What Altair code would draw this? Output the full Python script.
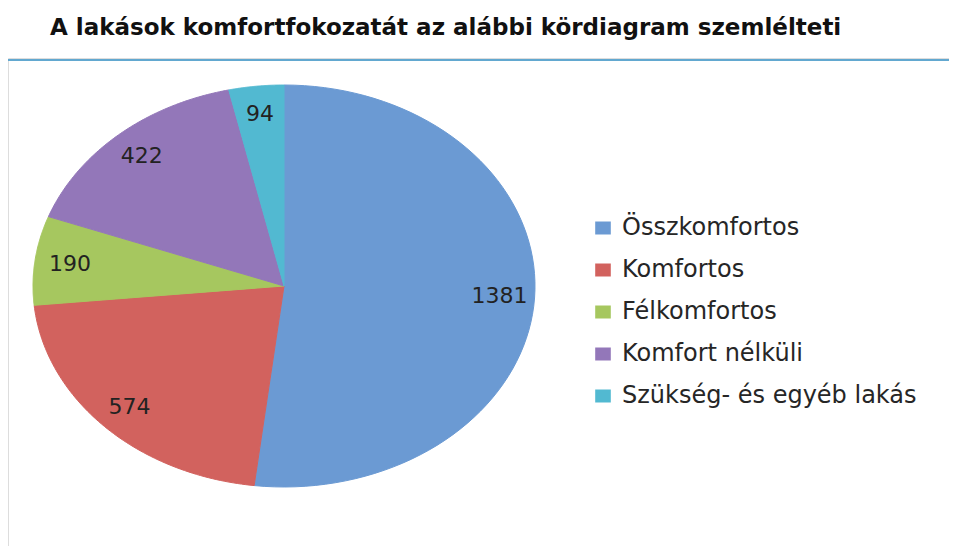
import altair as alt
import pandas as pd

# ---- data ----
categories = ["Összkomfortos", "Komfortos", "Félkomfortos", "Komfort nélküli", "Szükség- és egyéb lakás"]
values = [1381, 574, 190, 422, 94]
colors = ["#6B9AD3", "#D2625E", "#A6C75F", "#9377B9", "#52B9D1"]
title_text = "A lakások komfortfokozatát az alábbi kördiagram szemlélteti"

df = pd.DataFrame({"cat": categories, "value": values, "idx": list(range(len(categories)))})

W, H = 941, 488
CX, CY, RX, RY = 276, 228, 251, 201  # ellipse centre / radii in view pixels
xs = alt.Scale(domain=[-CX / RX, (W - CX) / RX], nice=False, zero=False)
ys = alt.Scale(domain=[-(H - CY) / RY, CY / RY], nice=False, zero=False)
color_scale = alt.Scale(domain=categories, range=colors)

base = (
    alt.Chart(df)
    .transform_joinaggregate(total="sum(value)")
    .transform_window(cum="sum(value)", sort=[alt.SortField("idx")], frame=[None, 0])
    .transform_calculate(
        t0="2*PI*(datum.cum-datum.value)/datum.total",
        t1="2*PI*datum.cum/datum.total",
    )
)

N = 80
slices = (
    base.transform_calculate(pts=f"sequence(0, {N + 2})")
    .transform_flatten(["pts"], as_=["i"])
    .transform_calculate(
        ang=f"datum.t0 + (datum.t1-datum.t0)*min(datum.i,{N})/{N}",
        px=f"datum.i > {N} ? 0 : sin(datum.ang)",
        py=f"datum.i > {N} ? 0 : cos(datum.ang)",
    )
    .mark_line(interpolate="linear-closed", strokeWidth=1)
    .encode(
        x=alt.X("px:Q", scale=xs, axis=None),
        y=alt.Y("py:Q", scale=ys, axis=None),
        order=alt.Order("i:Q"),
        detail="cat:N",
        fill=alt.Fill(
            "cat:N",
            scale=color_scale,
            legend=alt.Legend(
                orient="none",
                legendX=583,
                legendY=158,
                title=None,
                symbolType="M-1.2,-1H1.2V1H-1.2Z",
                symbolSize=169,
                symbolStrokeWidth=0,
                labelFont="DejaVu Sans",
                labelFontSize=24,
                labelColor="#262626",
                labelOffset=7,
                rowPadding=18,
                padding=0,
                labelLimit=400,
            ),
        ),
        stroke=alt.Stroke("cat:N", scale=color_scale, legend=None),
    )
)

labels = (
    base.transform_calculate(
        mid="(datum.t0+datum.t1)/2",
        lx="0.86*sin(datum.mid)",
        ly="0.86*cos(datum.mid)",
    )
    .mark_text(font="DejaVu Sans", fontSize=22, color="#222222")
    .encode(
        x=alt.X("lx:Q", scale=xs, axis=None),
        y=alt.Y("ly:Q", scale=ys, axis=None),
        text="value:Q",
    )
)

separator = (
    alt.Chart(pd.DataFrame({"k": [0]}))
    .mark_rect(color="#62A8D0")
    .encode(x=alt.value(0), x2=alt.value(W + 8), y=alt.value(1), y2=alt.value(3))
)

chart = (
    alt.layer(separator, slices, labels)
    .properties(
        width=W,
        height=H,
        autosize=alt.AutoSizeParams(type="none"),
        padding={"left": 0, "top": 50, "right": 0, "bottom": 0},
        title=alt.TitleParams(
            title_text,
            anchor="start",
            frame="group",
            font="DejaVu Sans",
            fontSize=23,
            fontWeight="bold",
            color="#111111",
            offset=18,
            dx=42,
        ),
    )
    .configure_view(stroke="transparent", strokeWidth=0)
    .configure(background="white")
)

chart.save("out.html", embed_options={"renderer": "svg", "actions": False})
